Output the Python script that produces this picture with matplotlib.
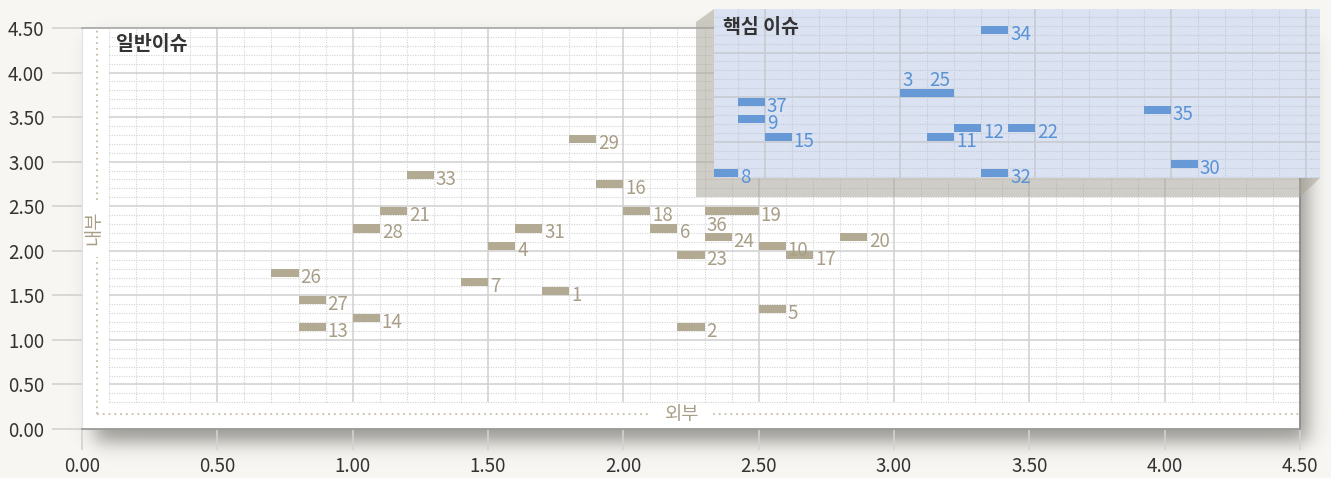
import numpy as np
import matplotlib.pyplot as plt
from matplotlib.patches import Polygon

plt.rcParams['font.family'] = ['Noto Sans CJK KR', 'DejaVu Sans']

# general issues (tan): bar start on x (외부), y (내부)
gen_ids = ['1', '2', '4', '5', '6', '7', '10', '13', '14', '16', '17', '18',
           '19', '20', '21', '23', '24', '26', '27', '28', '29', '31', '33', '36']
gen_x = [1.70, 2.20, 1.50, 2.50, 2.10, 1.40, 2.50, 0.80, 1.00, 1.90, 2.60, 2.00,
         2.40, 2.80, 1.10, 2.20, 2.30, 0.70, 0.80, 1.00, 1.80, 1.60, 1.20, 2.30]
gen_y = [1.55, 1.15, 2.05, 1.35, 2.25, 1.65, 2.05, 1.15, 1.25, 2.75, 1.95, 2.45,
         2.45, 2.15, 2.45, 1.95, 2.15, 1.75, 1.45, 2.25, 3.25, 2.25, 2.85, 2.45]

# core issues (blue)
core_ids = ['3', '8', '9', '11', '12', '15', '22', '25', '30', '32', '34', '35', '37']
core_x = [3.00, 2.30, 2.40, 3.10, 3.20, 2.50, 3.40, 3.10, 4.00, 3.30, 3.30, 3.90, 2.40]
core_y = [3.55, 2.65, 3.25, 3.05, 3.15, 3.05, 3.15, 3.55, 2.75, 2.65, 4.25, 3.35, 3.45]

ticks = [0.0, 0.5, 1.0, 1.5, 2.0, 2.5, 3.0, 3.5, 4.0, 4.5]
tick_labels = ['0.00', '0.50', '1.00', '1.50', '2.00', '2.50', '3.00', '3.50', '4.00', '4.50']

label_pos = {'36': 'below', '3': 'above', '25': 'above'}

W, H = 1331, 478
BG = '#f8f7f3'
TAN, TAN_TXT = '#b3aa94', '#a99f88'
BLUE, BLUE_TXT = '#6699d5', '#5a92d6'
FS = 13.5


def frac(x0, y0, x1, y1):
    return [x0 / W, 1 - y1 / H, (x1 - x0) / W, (y1 - y0) / H]


fig = plt.figure(figsize=(W / 100, H / 100), dpi=100, facecolor=BG)

# soft drop shadow behind the panel
bg = fig.add_axes([0, 0, 1, 1], zorder=0)
yy, xx = np.mgrid[0:H, 0:W] + 0.5


def soft(v, a, b, s):
    return 0.5 * (np.tanh((v - a) / s) - np.tanh((v - b) / s))


d = 0.6 * soft(xx, 95, 1308, 12) * soft(yy, 40, 442, 11)
base = np.array([248, 247, 243]) / 255
dark = np.array([0.36, 0.35, 0.33])
img = base * (1 - d[..., None]) + dark * d[..., None]
bg.imshow(img, extent=(0, W, H, 0), aspect='auto', interpolation='bilinear')
bg.set_xlim(0, W)
bg.set_ylim(H, 0)
bg.axis('off')

# main panel
ax = fig.add_axes(frac(82, 28, 1300, 429), zorder=1, facecolor='white')
ax.set_xlim(0, 4.5)
ax.set_ylim(0, 4.5)
ax.set_xticks(ticks)
ax.set_xticklabels(tick_labels)
ax.set_yticks(ticks)
ax.set_yticklabels(tick_labels)
ax.tick_params(axis='y', length=21.6, width=1.2, color='#d2d2d2', pad=5.5,
               labelsize=FS, labelcolor='#333333')
ax.tick_params(axis='x', length=15.1, width=1.2, color='#d2d2d2', pad=4,
               labelsize=FS, labelcolor='#333333')
for t in (ax.yaxis.get_major_ticks()[0], ax.xaxis.get_major_ticks()[0]):
    t.tick1line.set_color('#8f8f8f')
ax.yaxis.get_major_ticks()[-1].tick1line.set_color('#a8a8a8')
ax.xaxis.get_major_ticks()[-1].tick1line.set_color('#7f7f7f')
ax.spines['top'].set_color('#ababab')
ax.spines['bottom'].set_color('#9a9a9a')
ax.spines['right'].set_color('#8a8a8a')
ax.spines['left'].set_color('#e2e2e2')
for s in ('top', 'bottom', 'right'):
    ax.spines[s].set_linewidth(1.3)

MINOR = dict(color='#d4d4d4', lw=0.8, ls=(0, (1, 1.2)), zorder=0.5)
MAJOR = dict(color='#d3d3d3', lw=1.2, zorder=0.6)
steps = np.round(np.arange(0.1, 4.5, 0.1), 1)
for v in steps:
    style = MAJOR if abs(v * 2 - round(v * 2)) < 1e-6 else MINOR
    if v >= 0.1:
        ax.vlines(v, 0.3, 4.5, **style)
    if v >= 0.3:
        ax.hlines(v, 0.1, 4.5, **style)

# axis captions with dotted guides
DOT = dict(color='#c8bca5', lw=1.3, ls=(0, (1, 2.2)), clip_on=False, zorder=1)
ax.plot([0.054, 0.054], [0.168, 1.93], **DOT)
ax.plot([0.054, 0.054], [2.57, 4.5], **DOT)
ax.plot([0.054, 2.10], [0.168, 0.168], **DOT)
ax.plot([2.33, 4.5], [0.168, 0.168], **DOT)
ax.text(2.217, 0.168, '외부', ha='center', va='center', fontsize=FS, color=TAN_TXT)
ax.text(0.045, 2.255, '내부', ha='center', va='center', rotation=90,
        fontsize=FS, color=TAN_TXT)
ax.text(0.125, 4.31, '일반이슈', ha='left', va='center', fontsize=14,
        fontweight='bold', color='#333333')

BAR_H = 0.09


def label_bars(axis, ids, xs, ys, color):
    for lbl, x, y in zip(ids, xs, ys):
        pos = label_pos.get(lbl, 'right')
        if pos == 'above':
            xy, off = (x, y), (1.5, 5.0)
        elif pos == 'below':
            xy, off = (x, y), (1.5, -14.5)
        else:
            xy, off = (x + 0.1, y), (1.5, -7.2)
        axis.annotate(lbl, xy=xy, xytext=off, textcoords='offset points',
                      ha='left', va='baseline', fontsize=FS, color=color, zorder=4)


ax.barh(gen_y, 0.1, left=gen_x, height=BAR_H, align='center', color=TAN, zorder=3)
label_bars(ax, gen_ids, gen_x, gen_y, TAN_TXT)

# raised core-issue panel: bevel then blue face
bevel = [(696, 22), (714, 9), (1320, 9), (1320, 178), (1300, 197), (696, 197)]
fig.add_artist(Polygon([(x / W, 1 - y / H) for x, y in bevel], closed=True,
                       transform=fig.transFigure, facecolor='#a9a599',
                       alpha=0.55, edgecolor='none', zorder=2))

sx, sy = 1218 / 4.5, 401 / 4.5
bax = fig.add_axes(frac(714, 9, 1320, 178), zorder=3, facecolor='#dbe3f3')
bax.set_xlim((714 - 88) / sx, (1320 - 88) / sx)
bax.set_ylim((409 - 178) / sy, (409 - 9) / sy)
bax.set_xticks([])
bax.set_yticks([])
for s in bax.spines.values():
    s.set_visible(False)
BMINOR = dict(color='#c3c9d5', lw=0.8, ls=(0, (1, 1.2)), zorder=0.5)
BMAJOR = dict(color='#c6cad2', lw=1.2, zorder=0.6)
for v in np.round(np.arange(2.3, 4.61, 0.1), 1):
    style = BMAJOR if abs(v * 2 - round(v * 2)) < 1e-6 else BMINOR
    bax.axvline(v, **style)
for v in np.round(np.arange(2.6, 4.5, 0.1), 1):
    style = BMAJOR if abs(v * 2 - round(v * 2)) < 1e-6 else BMINOR
    bax.axhline(v, **style)

bax.barh(core_y, 0.1, left=core_x, height=BAR_H, align='center', color=BLUE, zorder=3)
label_bars(bax, core_ids, core_x, core_y, BLUE_TXT)
bax.text(0.015, 0.888, '핵심 이슈', transform=bax.transAxes, ha='left', va='center',
         fontsize=14, fontweight='bold', color='#333333')

fig.savefig('out.png', dpi=100, facecolor=BG)
